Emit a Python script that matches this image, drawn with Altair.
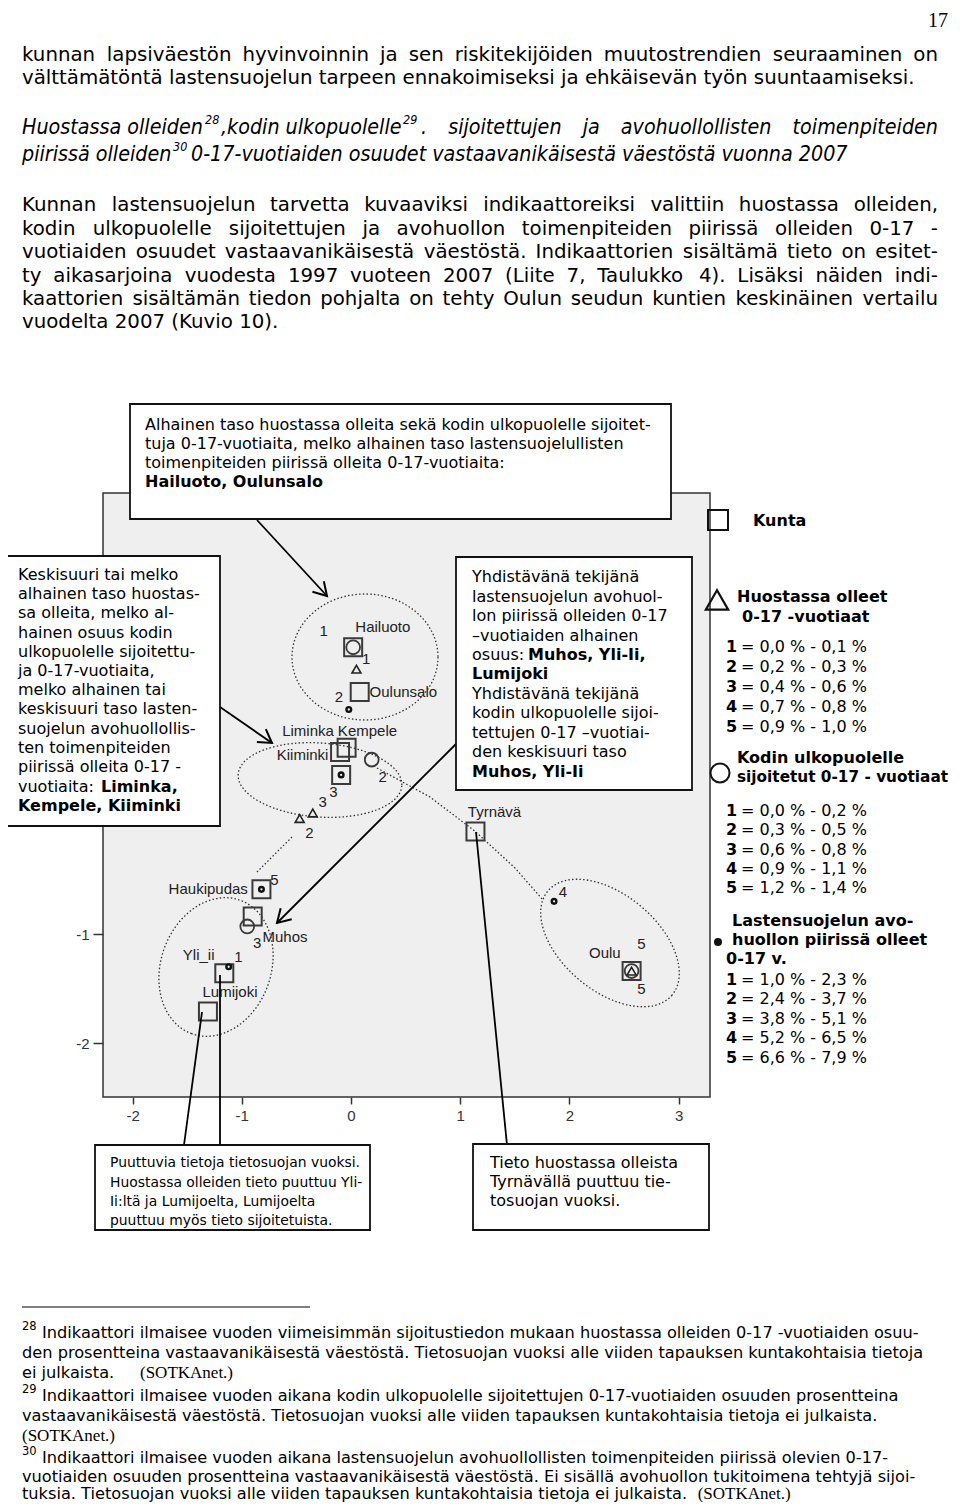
import altair as alt
import pandas as pd

# ------------------------------------------------------------------
# DATA (in the chart's own units)
# ------------------------------------------------------------------
kunta = ["Hailuoto", "Oulunsalo", "Kempele", "Liminka", "Kiiminki", "Haukipudas",
         "Muhos", "Yli_ii", "Lumijoki", "Tyrnävä", "Oulu"]
kunta_x = [0.02, 0.08, -0.04, -0.10, -0.09, -0.82, -0.90, -1.16, -1.31, 1.14, 2.57]
kunta_y = [1.63, 1.22, 0.71, 0.67, 0.46, -0.59, -0.84, -1.36, -1.71, -0.06, -1.34]
# label anchors of the municipality names
name_x = [0.04, 0.17, -0.12, -0.63, -0.68, -1.67, -0.81, -1.54, -1.36, 1.07, 2.18]
name_y = [1.82, 1.22, 0.86, 0.86, 0.64, -0.59, -1.03, -1.19, -1.53, 0.12, -1.17]

# circles: kodin ulkopuolelle sijoitetut
sij_x = [0.02, 0.19, -0.95, 2.57]
sij_y = [1.63, 0.60, -0.93, -1.34]
# triangles: huostassa olleet
huos_x = [0.05, -0.35, -0.47, 2.57]
huos_y = [1.43, 0.11, 0.06, -1.34]
# dots: avohuollon piirissä olleet
avo_x = [-0.02, -0.09, -0.82, -1.12, 1.86]
avo_y = [1.06, 0.46, -0.59, -1.30, -0.70]

# class numbers written next to the symbols
lvl_text = ["1", "1", "2", "2", "3", "3", "2", "5", "3", "1", "4", "5", "5"]
lvl_x = [-0.25, 0.14, -0.11, 0.29, -0.16, -0.26, -0.38, -0.70, -0.86, -1.03, 1.94, 2.66, 2.66]
lvl_y = [1.78, 1.52, 1.17, 0.44, 0.30, 0.21, -0.07, -0.50, -1.08, -1.21, -0.61, -1.09, -1.50]

x_ticks = [-2, -1, 0, 1, 2, 3]
y_ticks = [-2, -1]          # 0, 1, 2 lie under the left text box in the reference

legend_r1 = ["0,0 % - 0,1 %", "0,2 % - 0,3 %", "0,4 % - 0,6 %", "0,7 % - 0,8 %", "0,9 % - 1,0 %"]
legend_r2 = ["0,0 % - 0,2 %", "0,3 % - 0,5 %", "0,6 % - 0,8 %", "0,9 % - 1,1 %", "1,2 % - 1,4 %"]
legend_r3 = ["1,0 % - 2,3 %", "2,4 % - 3,7 %", "3,8 % - 5,1 %", "5,2 % - 6,5 %", "6,6 % - 7,9 %"]

para1 = ["kunnan lapsiväestön hyvinvoinnin ja sen riskitekijöiden muutostrendien seuraaminen on",
         "välttämätöntä lastensuojelun tarpeen ennakoimiseksi ja ehkäisevän työn suuntaamiseksi."]
para2 = ["Kunnan lastensuojelun tarvetta kuvaaviksi indikaattoreiksi valittiin huostassa olleiden,",
         "kodin ulkopuolelle sijoitettujen ja avohuollon toimenpiteiden piirissä olleiden 0-17 -",
         "vuotiaiden osuudet vastaavanikäisestä väestöstä. Indikaattorien sisältämä tieto on esitet-",
         "ty aikasarjoina vuodesta 1997 vuoteen 2007 (Liite 7, Taulukko 4). Lisäksi näiden indi-",
         "kaattorien sisältämän tiedon pohjalta on tehty Oulun seudun kuntien keskinäinen vertailu",
         "vuodelta 2007 (Kuvio 10)."]
box_top = ["Alhainen taso huostassa olleita sekä kodin ulkopuolelle sijoitet-",
           "tuja 0-17-vuotiaita, melko alhainen taso lastensuojelullisten",
           "toimenpiteiden piirissä olleita 0-17-vuotiaita:"]
box_left = ["Keskisuuri tai melko", "alhainen taso huostas-", "sa olleita, melko al-",
            "hainen osuus kodin", "ulkopuolelle sijoitettu-", "ja 0-17-vuotiaita,",
            "melko alhainen tai", "keskisuuri taso lasten-", "suojelun avohuollollis-",
            "ten toimenpiteiden", "piirissä olleita 0-17 -"]
box_mid = ["Yhdistävänä tekijänä", "lastensuojelun avohuol-", "lon piirissä olleiden 0-17",
           "–vuotiaiden alhainen", None, None, "Yhdistävänä tekijänä",
           "kodin ulkopuolelle sijoi-", "tettujen 0-17 –vuotiai-", "den keskisuuri taso"]
box_bl = ["Puuttuvia tietoja tietosuojan vuoksi.", "Huostassa olleiden tieto puuttuu Yli-",
          "Ii:ltä ja Lumijoelta, Lumijoelta", "puuttuu myös tieto sijoitetuista."]
box_br = ["Tieto huostassa olleista", "Tyrnävällä puuttuu tie-", "tosuojan vuoksi."]
foot = ["Indikaattori ilmaisee vuoden viimeisimmän sijoitustiedon mukaan huostassa olleiden 0-17 -vuotiaiden osuu-",
        "den prosentteina vastaavanikäisestä väestöstä. Tietosuojan vuoksi alle viiden tapauksen kuntakohtaisia tietoja",
        "ei julkaista.",
        "Indikaattori ilmaisee vuoden aikana kodin ulkopuolelle sijoitettujen 0-17-vuotiaiden osuuden prosentteina",
        "vastaavanikäisestä väestöstä. Tietosuojan vuoksi alle viiden tapauksen kuntakohtaisia tietoja ei julkaista.",
        "Indikaattori ilmaisee vuoden aikana lastensuojelun avohuollollisten toimenpiteiden piirissä olevien 0-17-",
        "vuotiaiden osuuden prosentteina vastaavanikäisestä väestöstä. Ei sisällä avohuollon tukitoimena tehtyjä sijoi-",
        "tuksia. Tietosuojan vuoksi alle viiden tapauksen kuntakohtaisia tietoja ei julkaista."]

# ------------------------------------------------------------------
# LAYOUT helpers (page position -> chart units, for annotations)
# ------------------------------------------------------------------
SANS = "DejaVu Sans"
COND = "DejaVu Sans Condensed, Liberation Sans Narrow, DejaVu Sans"
ARIAL = "Liberation Sans"
SERIF = "Liberation Serif"

PL, PR, PT, PB = 103, 710, 493, 1097
XD = [-2.271, 3.288]
YD = [-2.495, 3.046]
W_PLOT, H_PLOT = PR - PL, PB - PT


def X(px):
    return XD[0] + (px - PL) * (XD[1] - XD[0]) / W_PLOT


def Y(py):
    return YD[1] - (py - PT) * (YD[1] - YD[0]) / H_PLOT


ADV = {' ': .318, 'a': .613, 'b': .635, 'c': .550, 'd': .635, 'e': .615, 'f': .352, 'g': .635,
       'h': .634, 'i': .278, 'j': .278, 'k': .579, 'l': .278, 'm': .974, 'n': .634, 'o': .612,
       'p': .635, 'q': .635, 'r': .411, 's': .521, 't': .392, 'u': .634, 'v': .592, 'w': .818,
       'x': .592, 'y': .592, 'z': .525, 'ä': .613, 'ö': .612, 'K': .656, 'I': .295, 'L': .557,
       'H': .752, 'T': .611, 'O': .787, 'S': .635, 'E': .632, 'A': .684, 'P': .603, 'Y': .611,
       'M': .863, ',': .318, '.': .318, '-': .361, '(': .390, ')': .390, '%': .950, ':': .337}
for d in "0123456789":
    ADV[d] = .636


def tw(s):
    return sum(ADV.get(c, 0.6) for c in s)


items = []


def T(px, py, s, size, font=SANS, weight="normal", style="normal", align="left", color="#000"):
    items.append(dict(x=X(px), y=Y(py), t=s, size=size, font=font, weight=weight,
                      style=style, align=align, color=color))


def justify(line, x0, x1, py, size, font=SANS, style="normal", k=1.0):
    words = line.split(" ")
    widths = [tw(w) * size * k for w in words]
    gap = (x1 - x0 - sum(widths)) / (len(words) - 1)
    x = x0
    for i, (w, wd) in enumerate(zip(words, widths)):
        if i == len(words) - 1:
            T(x1, py, w, size, font, style=style, align="right")
        else:
            T(x, py, w, size, font, style=style)
        x += wd + gap


# ---- page text ----
T(948, 21, "17", 20, SERIF, align="right")
BS = 19.8
justify(para1[0], 22, 938, 55, BS)
T(22, 78, para1[1], BS)

HS = 21.3
T(22, 128, "Huostassa olleiden", HS, COND, style="italic")
T(205, 120, "28", 12.5, COND, style="italic")
T(221, 128, ",kodin ulkopuolelle", HS, COND, style="italic")
T(403, 120, "29", 12.5, COND, style="italic")
justify(". sijoitettujen ja avohuollollisten toimenpiteiden", 421, 938, 128, HS, COND, "italic", 0.9)
T(22, 155, "piirissä olleiden", HS, COND, style="italic")
T(173, 147, "30", 12.5, COND, style="italic")
T(191, 155, "0-17-vuotiaiden osuudet vastaavanikäisestä väestöstä vuonna 2007", HS, COND, style="italic")

for i, (line, py) in enumerate(zip(para2, [205, 229, 252, 276, 299, 322])):
    if i < 5:
        justify(line, 22, 938, py, BS)
    else:
        T(22, py, line, BS)

# ---- boxes text ----
FS = 16
for line, py in zip(box_top, [425, 444, 463]):
    T(145, py, line, FS)
T(145, 482, "Hailuoto, Oulunsalo", FS, weight="bold")

for line, py in zip(box_left, [575, 594, 613, 633, 652, 671, 690, 709, 729, 748, 767]):
    T(18, py, line, FS)
T(18, 787, "vuotiaita:", FS)
T(101, 787, "Liminka,", FS, weight="bold")
T(18, 806, "Kempele, Kiiminki", FS, weight="bold")

mid_y = [577, 597, 616, 636, 655, 674, 694, 713, 733, 752]
for line, py in zip(box_mid, mid_y):
    if line:
        T(472, py, line, FS)
T(472, 655, "osuus:", FS)
T(528, 655, "Muhos, Yli-Ii,", FS, weight="bold")
T(472, 674, "Lumijoki", FS, weight="bold")
T(472, 772, "Muhos, Yli-Ii", FS, weight="bold")

for line, py in zip(box_bl, [1163, 1183, 1202, 1221]):
    T(110, py, line, 13.9)
for line, py in zip(box_br, [1163, 1182, 1201]):
    T(490, py, line, FS)

# ---- legend text ----
T(753, 521, "Kunta", FS, weight="bold")
T(737, 597, "Huostassa olleet", FS, weight="bold")
T(742, 617, "0-17 -vuotiaat", FS, weight="bold")
T(737, 758, "Kodin ulkopuolelle", FS, weight="bold")
T(737, 777, "sijoitetut 0-17 - vuotiaat", 15.3, weight="bold")
T(732, 921, "Lastensuojelun avo-", FS, weight="bold")
T(732, 940, "huollon piirissä olleet", FS, weight="bold")
T(726, 959, "0-17 v.", FS, weight="bold")
for rows, ys in [(legend_r1, [647, 667, 687, 707, 727]),
                 (legend_r2, [811, 830, 850, 869, 888]),
                 (legend_r3, [980, 999, 1019, 1038, 1058])]:
    for n, (r, py) in enumerate(zip(rows, ys)):
        T(726, py, str(n + 1), FS, weight="bold")
        T(741, py, "= " + r, FS)

# ---- footnotes ----
FN = 16.2
fy = [1333, 1353, 1373, 1396, 1416, 1458, 1477, 1494]
T(22, 1327, "28", 11.5)
T(22, 1390, "29", 11.5)
T(22, 1452, "30", 11.5)
for line, px, py in zip(foot, [42, 22, 22, 42, 22, 42, 22, 22], fy):
    T(px, py, line, FN)
T(140, 1373, "(SOTKAnet.)", 17, SERIF)
T(22, 1436, "(SOTKAnet.)", 17, SERIF)
T(22 + tw(foot[7]) * FN + 8, 1494, "(SOTKAnet.)", 17, SERIF)

# ------------------------------------------------------------------
# CHART
# ------------------------------------------------------------------
XS = alt.Scale(domain=XD, nice=False, zero=False)
YS = alt.Scale(domain=YD, nice=False, zero=False)
AX = alt.Axis(values=x_ticks, title=None, grid=False, domain=False, tickSize=7, tickWidth=1.5,
              tickColor="#333", labelFont=ARIAL, labelFontSize=15, labelColor="#333",
              labelPadding=4, labelExpr="datum.value", labelFlush=False, labelOverlap=False)
AY = alt.Axis(values=y_ticks, title=None, grid=False, domain=False, tickSize=10, tickWidth=1.5,
              tickColor="#333", labelFont=ARIAL, labelFontSize=15, labelColor="#333",
              labelPadding=4, labelExpr="datum.value", labelFlush=False, labelOverlap=False)


def xy():
    return dict(x=alt.X("x:Q", scale=XS, axis=AX, title=None),
                y=alt.Y("y:Q", scale=YS, axis=AY, title=None))


def ell_path(r):
    k = 0.5523
    return (f"M 1 0 C 1 {k*r:.4f} {k:.4f} {r:.4f} 0 {r:.4f} C {-k:.4f} {r:.4f} -1 {k*r:.4f} -1 0 "
            f"C -1 {-k*r:.4f} {-k:.4f} {-r:.4f} 0 {-r:.4f} C {k:.4f} {-r:.4f} 1 {-k*r:.4f} 1 0 Z")


# dotted group ellipses: centre (page px), semi axes (px), rotation
ell = [((365, 657), 73, 63, 0), ((320, 780), 82, 37, 4),
       ((216, 967), 71, 55, 110), ((610, 943), 81, 48, 40)]
ell_df = pd.DataFrame(dict(
    x=[X(c[0]) for c, a, b, g in ell], y=[Y(c[1]) for c, a, b, g in ell],
    shp=[ell_path(b / a) for c, a, b, g in ell], sz=[(2 * a) ** 2 for c, a, b, g in ell],
    ang=[g for c, a, b, g in ell]))
layers = []
layers.append(alt.Chart(ell_df).mark_point(filled=False, color="#333", strokeWidth=1.3,
                                           strokeDash=[1.5, 2.2], opacity=1, clip=False).encode(
    **xy(), shape=alt.Shape("shp:N", scale=None), size=alt.Size("sz:Q", scale=None),
    angle=alt.Angle("ang:Q", scale=None)))

dotted = [(0, [(377, 768), (430, 797), (476, 832), (515, 868), (543, 900)]),
          (1, [(292, 837), (257, 872)])]
dot_rows = [dict(seg=s, o=i, x=X(p[0]), y=Y(p[1])) for s, pts in dotted for i, p in enumerate(pts)]
layers.append(alt.Chart(pd.DataFrame(dot_rows)).mark_line(
    color="#333", strokeWidth=1.3, strokeDash=[1.5, 2.2], clip=False).encode(
    **xy(), detail="seg:N", order="o:Q"))

# symbols
layers.append(alt.Chart(pd.DataFrame(dict(x=kunta_x, y=kunta_y))).mark_point(
    shape="square", filled=False, size=324, color="#3a3a3a", strokeWidth=2, opacity=1,
    clip=False).encode(**xy()))
layers.append(alt.Chart(pd.DataFrame(dict(x=sij_x, y=sij_y))).mark_point(
    shape="circle", filled=False, size=190, color="#3a3a3a", strokeWidth=1.8, opacity=1,
    clip=False).encode(**xy()))
layers.append(alt.Chart(pd.DataFrame(dict(x=huos_x, y=huos_y))).mark_point(
    shape="triangle-up", filled=False, size=80, color="#222", strokeWidth=1.6, opacity=1,
    clip=False).encode(**xy()))
layers.append(alt.Chart(pd.DataFrame(dict(x=avo_x, y=avo_y))).mark_point(
    shape="circle", filled=False, size=22, color="#111", strokeWidth=2.4, opacity=1,
    clip=False).encode(**xy()))

# labels in the plot
layers.append(alt.Chart(pd.DataFrame(dict(x=name_x, y=name_y, t=kunta))).mark_text(
    font=ARIAL, fontSize=15, color="#222", align="left", baseline="middle", clip=False).encode(
    **xy(), text="t:N"))
layers.append(alt.Chart(pd.DataFrame(dict(x=lvl_x, y=lvl_y, t=lvl_text))).mark_text(
    font=ARIAL, fontSize=15, color="#222", align="center", baseline="middle", clip=False).encode(
    **xy(), text="t:N"))

# connector lines and arrows
conn = [((257, 520), (327, 596)), ((220, 707), (272, 743)), ((456, 744), (277, 923)),
        ((220, 975), (220, 1145)), ((202, 1012), (184, 1145)), ((476, 832), (507, 1145))]
conn_df = pd.DataFrame(dict(x=[X(a[0]) for a, b in conn], y=[Y(a[1]) for a, b in conn],
                            x2=[X(b[0]) for a, b in conn], y2=[Y(b[1]) for a, b in conn]))
layers.append(alt.Chart(conn_df).mark_rule(color="#000", strokeWidth=1.8, clip=False).encode(
    **xy(), x2="x2:Q", y2="y2:Q"))
heads = pd.DataFrame(dict(x=[X(327), X(272), X(277)], y=[Y(596), Y(743), Y(923)],
                          ang=[47, 35, 135]))
layers.append(alt.Chart(heads).mark_point(
    shape="M -1 -0.6 L 0 0 L -1 0.6", filled=False, size=676, color="#000", strokeWidth=2,
    opacity=1, clip=False).encode(**xy(), angle=alt.Angle("ang:Q", scale=None)))

# white annotation boxes
boxes = [(130, 404, 671, 519), (3, 556, 220, 826), (456, 557, 692, 790),
         (95, 1145, 370, 1230), (473, 1144, 709, 1230)]
box_df = pd.DataFrame(dict(x=[X(b[0]) for b in boxes], y=[Y(b[1]) for b in boxes],
                           x2=[X(b[2]) for b in boxes], y2=[Y(b[3]) for b in boxes]))
layers.append(alt.Chart(box_df).mark_rect(fill="white", stroke="#111", strokeWidth=1.8,
                                          clip=False).encode(**xy(), x2="x2:Q", y2="y2:Q"))

# footnote separator
layers.append(alt.Chart(pd.DataFrame(dict(x=[X(22)], x2=[X(310)], y=[Y(1307)]))).mark_rule(
    color="#000", strokeWidth=1, clip=False).encode(**xy(), x2="x2:Q"))


# legend symbols
def sym(px, py, shape, size, filled, sw):
    return alt.Chart(pd.DataFrame(dict(x=[X(px)], y=[Y(py)]))).mark_point(
        shape=shape, size=size, filled=filled, color="#111", strokeWidth=sw, opacity=1,
        clip=False).encode(**xy())


layers.append(sym(718, 520, "square", 400, False, 2))
layers.append(sym(717, 600, "triangle-up", 500, False, 2.2))
layers.append(sym(720, 773, "circle", 361, False, 2))
layers.append(sym(718, 942, "circle", 64, True, 1))

# all text
tdf = pd.DataFrame(items)
for (font, weight, style, align, color), g in tdf.groupby(["font", "weight", "style", "align", "color"]):
    layers.append(alt.Chart(g.reset_index(drop=True)).mark_text(
        font=font, fontWeight=weight, fontStyle=style, align=align, baseline="middle",
        color=color, clip=False).encode(**xy(), text="t:N", size=alt.Size("size:Q", scale=None)))

chart = alt.layer(*layers).properties(
    width=W_PLOT, height=H_PLOT,
    padding={"left": PL - 8, "top": PT - 8, "right": 952 - PR, "bottom": 1502 - PB},
    autosize=alt.AutoSizeParams(type="none"),
).configure(background="white").configure_view(fill="#efefef", stroke="#333", strokeWidth=1.5)

chart.save("out.html", embed_options={"renderer": "svg", "actions": False})
